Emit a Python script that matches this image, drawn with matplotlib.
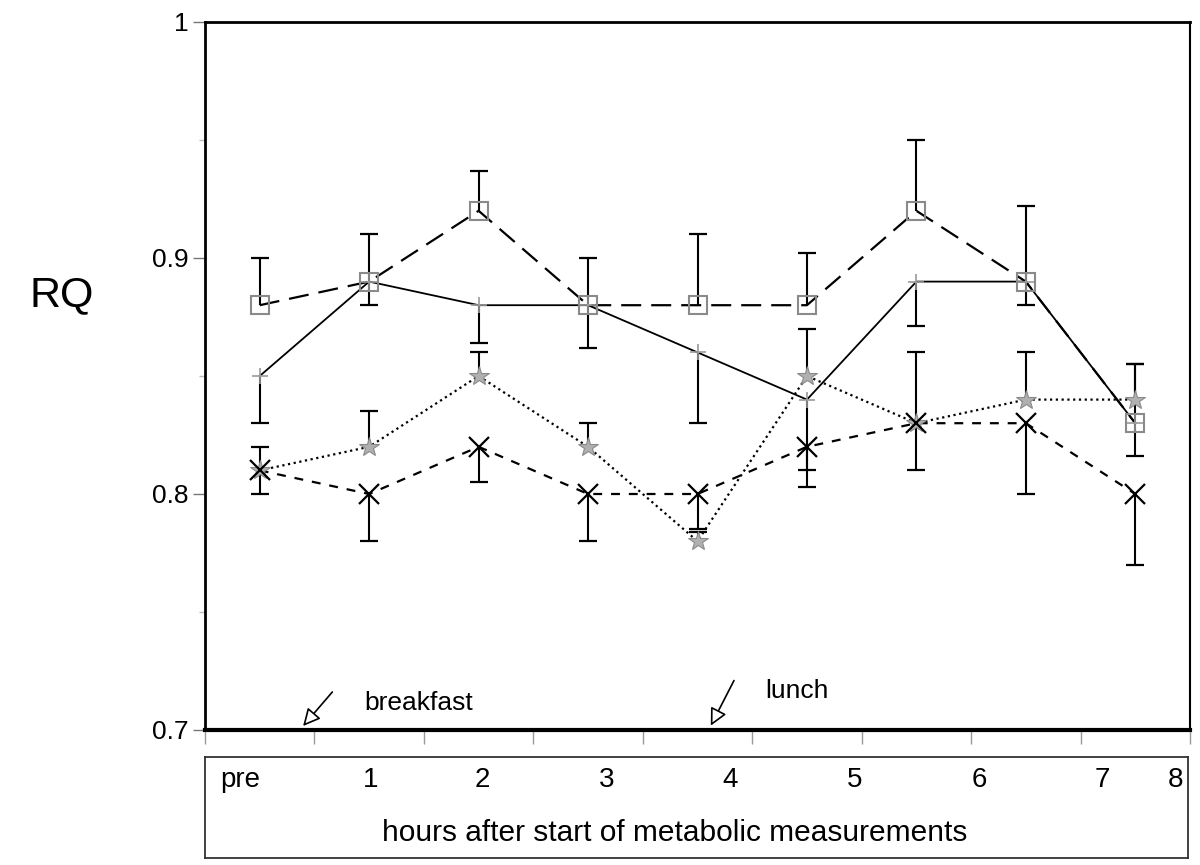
import matplotlib.pyplot as plt
import numpy as np

plt.rcParams['font.family'] = ['Liberation Sans', 'DejaVu Sans']

# time points (categories)
hour_labels = ['pre', '1', '2', '3', '4', '5', '6', '7', '8']
hours = np.arange(len(hour_labels))

# RQ means and one-sided SD per group
rq_square = [0.88, 0.89, 0.92, 0.88, 0.88, 0.88, 0.92, 0.89, 0.83]
sd_square = [0.02, 0.02, 0.017, 0.02, 0.03, 0.022, 0.03, 0.032, 0.025]   # upward

rq_plus = [0.85, 0.89, 0.88, 0.88, 0.86, 0.84, 0.89, 0.89, 0.83]
sd_plus = [0.02, 0.01, 0.016, 0.018, 0.03, 0.03, 0.019, 0.01, 0.014]      # downward

rq_star = [0.81, 0.82, 0.85, 0.82, 0.78, 0.85, 0.83, 0.84, 0.84]
sd_star = [0.01, 0.015, 0.01, 0.01, 0.004, 0.02, 0.03, 0.02, 0.015]      # upward

rq_cross = [0.81, 0.80, 0.82, 0.80, 0.80, 0.82, 0.83, 0.83, 0.80]
sd_cross = [0.01, 0.02, 0.015, 0.02, 0.015, 0.017, 0.02, 0.03, 0.03]     # downward

# label positions inside the lower box (axes fraction)
label_pos = [0.036, 0.168, 0.282, 0.409, 0.534, 0.661, 0.788, 0.913, 0.987]


def one_sided(ax, x, y, err, sign):
    y = np.asarray(y)
    end = y + sign * np.asarray(err)
    ax.vlines(x, y, end, color='black', lw=1.5, zorder=2)
    ax.plot(x, end, ls='none', marker='_', ms=13, mew=1.6, color='black', zorder=2)


fig = plt.figure(figsize=(12, 8.65), dpi=100)
ax = fig.add_axes([205 / 1200, 1 - 730 / 865, 985 / 1200, 708 / 865])

one_sided(ax, hours, rq_square, sd_square, 1)
one_sided(ax, hours, rq_plus, sd_plus, -1)
one_sided(ax, hours, rq_star, sd_star, 1)
one_sided(ax, hours, rq_cross, sd_cross, -1)

ax.plot(hours, rq_square, color='black', lw=1.6, dashes=(9, 4.5), zorder=3)
ax.plot(hours, rq_square, ls='none', marker='s', ms=13, mfc='none', mec='#8a8a8a', mew=1.5, zorder=4)

ax.plot(hours, rq_plus, color='black', lw=1.3, zorder=3)
ax.plot(hours, rq_plus, ls='none', marker='+', ms=12, mec='#9a9a9a', mew=1.2, zorder=4)

ax.plot(hours, rq_star, color='black', lw=1.6, dashes=(1, 1.6), zorder=3)
ax.plot(hours, rq_star, ls='none', marker='*', ms=15, mfc='#b0b0b0', mec='#8a8a8a', mew=0.8, zorder=4)

ax.plot(hours, rq_cross, color='black', lw=1.6, dashes=(4, 4), zorder=3)
ax.plot(hours, rq_cross, ls='none', marker='x', ms=14, mec='black', mew=1.6, zorder=4)

ax.set_xlim(-0.5, 8.5)
ax.set_ylim(0.7, 1.0)
ax.set_yticks([0.7, 0.8, 0.9, 1.0])
ax.set_yticklabels(['0.7', '0.8', '0.9', '1'], fontsize=19)
ax.set_yticks([0.75, 0.85, 0.95], minor=True)
ax.tick_params(axis='y', which='major', length=9, width=1, color='#777777', pad=3)
ax.tick_params(axis='y', which='minor', length=4, width=1, color='#bbbbbb')
ax.set_xticks(np.arange(-0.5, 9, 1))
ax.set_xticklabels([])
ax.tick_params(axis='x', length=10, width=1, color='#999999')

ax.spines['bottom'].set_linewidth(3)
ax.spines['left'].set_linewidth(2)
ax.spines['top'].set_linewidth(2)
ax.spines['right'].set_linewidth(1.5)

# meal arrows
ax.annotate('', xy=(0.38, 0.7008), xytext=(0.68, 0.717), annotation_clip=False,
            arrowprops=dict(arrowstyle='-|>', fc='white', ec='black', lw=1.2, mutation_scale=26))
ax.text(0.955, 0.7114, 'breakfast', fontsize=19, ha='left', va='center')
ax.annotate('', xy=(4.11, 0.7008), xytext=(4.345, 0.722), annotation_clip=False,
            arrowprops=dict(arrowstyle='-|>', fc='white', ec='black', lw=1.2, mutation_scale=26))
ax.text(4.62, 0.7165, 'lunch', fontsize=19, ha='left', va='center')

fig.text(62 / 1200, 1 - 295 / 865, 'RQ', fontsize=31, ha='center', va='center')

# box with hour labels
box = fig.add_axes([205 / 1200, 1 - 858 / 865, 983 / 1200, 101 / 865])
box.set_xticks([])
box.set_yticks([])
for s in box.spines.values():
    s.set_linewidth(1.3)
    s.set_color('#333333')
for lab, p in zip(hour_labels, label_pos):
    box.text(p, 0.77, lab, fontsize=20, ha='center', va='center', transform=box.transAxes)
box.text(0.478, 0.25, 'hours after start of metabolic measurements', fontsize=21.5,
         ha='center', va='center', transform=box.transAxes)

plt.savefig('out.png', dpi=100)
